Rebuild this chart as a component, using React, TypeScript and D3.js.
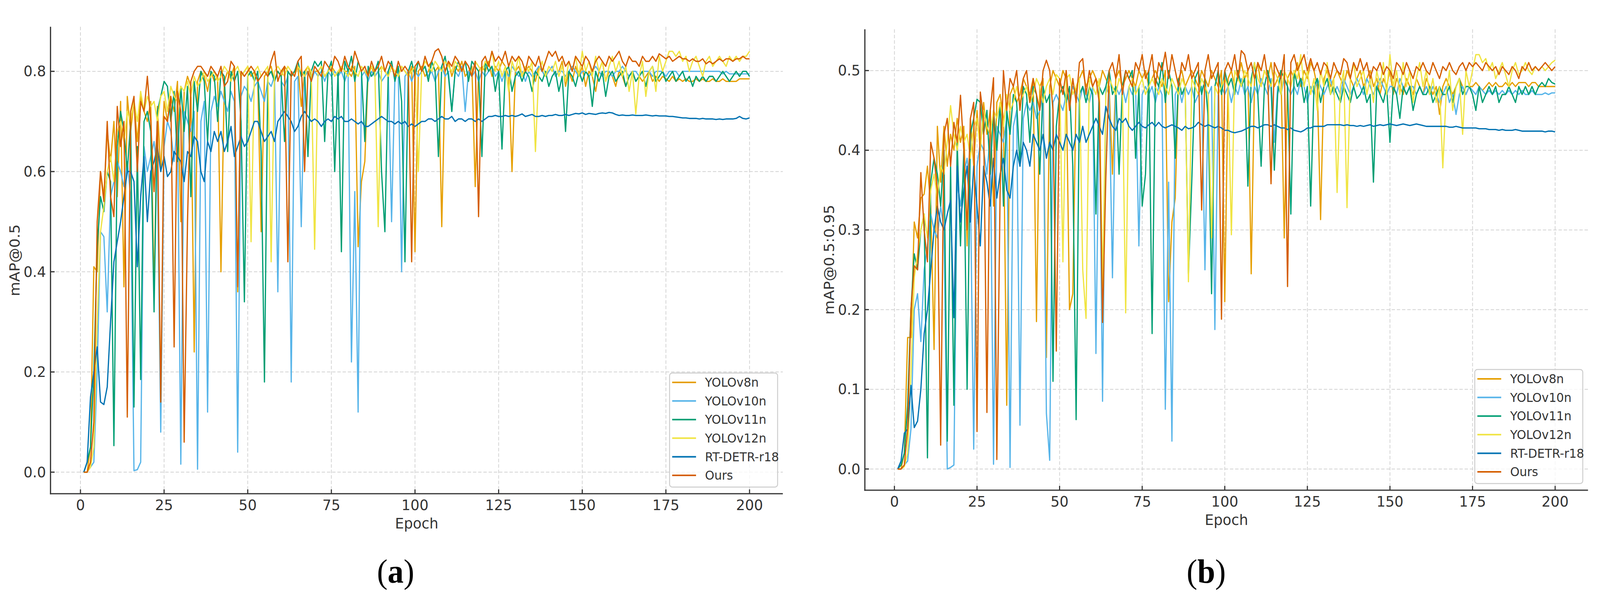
import React, { useEffect } from 'react';
import * as d3 from 'd3';

// series names + colours (legend order = draw order)
const seriesNames = ['YOLOv8n', 'YOLOv10n', 'YOLOv11n', 'YOLOv12n', 'RT-DETR-r18', 'Ours'];
const seriesColors = ['#E69F00', '#56B4E9', '#009E73', '#F0E442', '#0072B2', '#D55E00'];

const epochTicks = [0, 25, 50, 75, 100, 125, 150, 175, 200];
const map50Ticks = [0, 0.2, 0.4, 0.6, 0.8];
const map5095Ticks = [0, 0.1, 0.2, 0.3, 0.4, 0.5];

// ---- mAP@0.5, epochs 1..200 ----
const yolov8nMap50 = [
  0.0, 0.0, 0.05, 0.41, 0.40, 0.60, 0.55, 0.68, 0.62, 0.70, 0.55, 0.74, 0.37, 0.75, 0.68, 0.74, 0.66, 0.75, 0.72, 0.70,
  0.74, 0.36, 0.73, 0.60, 0.74, 0.70, 0.75, 0.72, 0.78, 0.50, 0.76, 0.79, 0.77, 0.24, 0.78, 0.80, 0.79, 0.76, 0.80, 0.78,
  0.79, 0.40, 0.78, 0.80, 0.79, 0.81, 0.36, 0.79, 0.80, 0.81, 0.79, 0.80, 0.78, 0.48, 0.79, 0.80, 0.81, 0.78, 0.80, 0.79,
  0.81, 0.80, 0.79, 0.80, 0.81, 0.73, 0.80, 0.81, 0.79, 0.80, 0.80, 0.81, 0.79, 0.80, 0.81, 0.80, 0.79, 0.81, 0.80, 0.80,
  0.79, 0.81, 0.45, 0.58, 0.62, 0.80, 0.81, 0.79, 0.80, 0.81, 0.80, 0.79, 0.81, 0.80, 0.79, 0.81, 0.80, 0.79, 0.81, 0.44,
  0.80, 0.81, 0.79, 0.80, 0.82, 0.80, 0.81, 0.49, 0.80, 0.82, 0.79, 0.81, 0.80, 0.82, 0.79, 0.80, 0.81, 0.57, 0.80, 0.81,
  0.80, 0.82, 0.79, 0.81, 0.80, 0.82, 0.81, 0.79, 0.60, 0.80, 0.81, 0.79, 0.80, 0.81, 0.80, 0.78, 0.81, 0.80, 0.79, 0.80,
  0.81, 0.79, 0.80, 0.82, 0.77, 0.80, 0.78, 0.81, 0.79, 0.81, 0.77, 0.80, 0.79, 0.76, 0.80, 0.82, 0.78, 0.80, 0.79, 0.77,
  0.80, 0.79, 0.77, 0.79, 0.80, 0.78, 0.79, 0.78, 0.79, 0.80, 0.78, 0.79, 0.78, 0.79, 0.785, 0.78, 0.79, 0.78, 0.785, 0.78,
  0.785, 0.78, 0.78, 0.785, 0.78, 0.785, 0.78, 0.78, 0.785, 0.78, 0.78, 0.785, 0.78, 0.78, 0.78, 0.78, 0.785, 0.785, 0.785, 0.785,
];
const yolov10nMap50 = [
  0.0, 0.0, 0.01, 0.02, 0.2, 0.48, 0.47, 0.32, 0.55, 0.58, 0.62, 0.6, 0.57, 0.62, 0.55, 0.003, 0.005, 0.02, 0.65, 0.6,
  0.63, 0.66, 0.6, 0.08, 0.65, 0.7, 0.68, 0.62, 0.7, 0.016, 0.72, 0.7, 0.68, 0.72, 0.006, 0.7, 0.74, 0.12, 0.72, 0.75,
  0.73, 0.76, 0.74, 0.72, 0.76, 0.74, 0.04, 0.75, 0.77, 0.76, 0.74, 0.77, 0.78, 0.76, 0.74, 0.78, 0.77, 0.79, 0.36, 0.78,
  0.77, 0.79, 0.18, 0.78, 0.79, 0.49, 0.79, 0.8, 0.78, 0.8, 0.79, 0.8, 0.78, 0.8, 0.79, 0.8, 0.79, 0.8, 0.78, 0.8,
  0.22, 0.56, 0.12, 0.79, 0.8, 0.78, 0.8, 0.79, 0.8, 0.78, 0.79, 0.8, 0.5, 0.79, 0.8, 0.4, 0.79, 0.8, 0.78, 0.8,
  0.79, 0.8, 0.81, 0.79, 0.8, 0.78, 0.8, 0.81, 0.79, 0.8, 0.72, 0.8, 0.79, 0.81, 0.72, 0.8, 0.79, 0.8, 0.78, 0.8,
  0.79, 0.8, 0.81, 0.79, 0.8, 0.78, 0.8, 0.79, 0.81, 0.8, 0.79, 0.8, 0.78, 0.8, 0.79, 0.8, 0.81, 0.8, 0.79, 0.8,
  0.81, 0.79, 0.8, 0.8, 0.79, 0.8, 0.81, 0.8, 0.79, 0.8, 0.8, 0.79, 0.8, 0.81, 0.8, 0.79, 0.8, 0.8, 0.79, 0.8,
  0.8, 0.81, 0.8, 0.79, 0.8, 0.8, 0.79, 0.8, 0.8, 0.8, 0.79, 0.8, 0.8, 0.8, 0.79, 0.8, 0.8, 0.8, 0.79, 0.8,
  0.8, 0.8, 0.8, 0.8, 0.8, 0.8, 0.8, 0.8, 0.8, 0.8, 0.8, 0.795, 0.8, 0.795, 0.795, 0.795, 0.795, 0.795, 0.795, 0.795,
];
const yolov11nMap50 = [
  0.0, 0.02, 0.05, 0.2, 0.45, 0.55, 0.52, 0.6, 0.58, 0.053, 0.65, 0.72, 0.68, 0.6, 0.7, 0.13, 0.65, 0.185, 0.7, 0.72,
  0.68, 0.32, 0.72, 0.75, 0.78, 0.77, 0.7, 0.76, 0.62, 0.77, 0.68, 0.77, 0.55, 0.78, 0.72, 0.8, 0.78, 0.66, 0.8, 0.79,
  0.7, 0.8, 0.79, 0.64, 0.8, 0.78, 0.8, 0.7, 0.34, 0.79, 0.8, 0.78, 0.8, 0.64, 0.18, 0.79, 0.8, 0.78, 0.8, 0.79,
  0.66, 0.8, 0.79, 0.8, 0.82, 0.79, 0.8, 0.63, 0.8, 0.82, 0.81, 0.82, 0.66, 0.8, 0.82, 0.6, 0.8, 0.44, 0.82, 0.8,
  0.83, 0.78, 0.82, 0.8, 0.66, 0.81, 0.79, 0.8, 0.82, 0.6, 0.48, 0.8, 0.82, 0.78, 0.81, 0.74, 0.42, 0.8, 0.82, 0.79,
  0.82, 0.8, 0.81, 0.78, 0.82, 0.8, 0.63, 0.81, 0.83, 0.79, 0.72, 0.8, 0.82, 0.8, 0.82, 0.78, 0.82, 0.81, 0.8, 0.63,
  0.82, 0.8, 0.81, 0.76, 0.8, 0.645, 0.8, 0.81, 0.76, 0.79, 0.8, 0.78, 0.8, 0.79, 0.76, 0.8, 0.79, 0.78, 0.8, 0.77,
  0.79, 0.8, 0.76, 0.79, 0.68, 0.8, 0.79, 0.77, 0.8, 0.78, 0.8, 0.79, 0.73, 0.8, 0.78, 0.8, 0.75, 0.79, 0.8, 0.78,
  0.79, 0.8, 0.77, 0.79, 0.8, 0.78, 0.79, 0.8, 0.77, 0.8, 0.81, 0.78, 0.79, 0.8, 0.78, 0.79, 0.8, 0.78, 0.79, 0.8,
  0.78, 0.79, 0.77, 0.79, 0.78, 0.79, 0.78, 0.79, 0.79, 0.78, 0.79, 0.8, 0.79, 0.78, 0.79, 0.8, 0.79, 0.8, 0.8, 0.79,
];
const yolov12nMap50 = [
  0.0, 0.0, 0.01, 0.05, 0.3, 0.48, 0.53, 0.6, 0.63, 0.58, 0.68, 0.7, 0.66, 0.72, 0.7, 0.74, 0.7, 0.76, 0.72, 0.75,
  0.73, 0.74, 0.7, 0.75, 0.76, 0.72, 0.77, 0.75, 0.74, 0.77, 0.76, 0.78, 0.75, 0.79, 0.77, 0.78, 0.8, 0.78, 0.79, 0.8,
  0.78, 0.79, 0.81, 0.8, 0.78, 0.8, 0.81, 0.79, 0.8, 0.81, 0.46, 0.8, 0.81, 0.79, 0.8, 0.81, 0.42, 0.8, 0.81, 0.8,
  0.79, 0.81, 0.8, 0.79, 0.81, 0.8, 0.79, 0.81, 0.8, 0.445, 0.8, 0.81, 0.79, 0.8, 0.81, 0.79, 0.8, 0.81, 0.8, 0.79,
  0.81, 0.8, 0.79, 0.81, 0.8, 0.79, 0.81, 0.8, 0.49, 0.81, 0.8, 0.79, 0.81, 0.8, 0.79, 0.81, 0.8, 0.79, 0.8, 0.81,
  0.6, 0.8, 0.82, 0.81, 0.8, 0.82, 0.81, 0.8, 0.82, 0.81, 0.8, 0.82, 0.81, 0.8, 0.82, 0.81, 0.79, 0.82, 0.81, 0.8,
  0.82, 0.81, 0.84, 0.8, 0.82, 0.79, 0.81, 0.76, 0.82, 0.8, 0.83, 0.79, 0.81, 0.8, 0.82, 0.64, 0.8, 0.82, 0.79, 0.81,
  0.8, 0.82, 0.79, 0.81, 0.78, 0.82, 0.8, 0.83, 0.79, 0.84, 0.8, 0.82, 0.79, 0.83, 0.8, 0.82, 0.78, 0.81, 0.83, 0.8,
  0.82, 0.79, 0.81, 0.76, 0.8, 0.715, 0.79, 0.82, 0.75, 0.8, 0.81, 0.76, 0.83, 0.8, 0.82, 0.84, 0.84, 0.83, 0.84, 0.82,
  0.83, 0.8, 0.82, 0.83, 0.81, 0.79, 0.82, 0.83, 0.81, 0.82, 0.83, 0.82, 0.81, 0.83, 0.82, 0.83, 0.82, 0.83, 0.83, 0.84,
];
const rtdetrMap50 = [
  0.0, 0.02, 0.15, 0.2, 0.25, 0.14, 0.135, 0.17, 0.3, 0.42, 0.46, 0.5, 0.55, 0.6, 0.6, 0.58, 0.41, 0.55, 0.63, 0.5,
  0.6, 0.62, 0.65, 0.6, 0.63, 0.59, 0.6, 0.64, 0.63, 0.62, 0.58, 0.64, 0.63, 0.67, 0.66, 0.6, 0.58, 0.66, 0.64, 0.68,
  0.66, 0.68, 0.64, 0.66, 0.69, 0.63, 0.65, 0.67, 0.65, 0.66, 0.68, 0.7, 0.7, 0.68, 0.66, 0.67, 0.68, 0.66, 0.7, 0.71,
  0.72, 0.71, 0.7, 0.68, 0.69, 0.71, 0.72, 0.71, 0.7, 0.705, 0.7, 0.69, 0.7, 0.705, 0.7, 0.71, 0.705, 0.71, 0.7, 0.7,
  0.705, 0.7, 0.695, 0.7, 0.69, 0.69, 0.695, 0.7, 0.705, 0.71, 0.705, 0.7, 0.7, 0.695, 0.7, 0.695, 0.7, 0.69, 0.695, 0.69,
  0.695, 0.7, 0.7, 0.705, 0.705, 0.7, 0.705, 0.71, 0.705, 0.705, 0.71, 0.7, 0.705, 0.705, 0.7, 0.705, 0.705, 0.7, 0.705, 0.7,
  0.705, 0.71, 0.71, 0.712, 0.71, 0.71, 0.712, 0.71, 0.712, 0.71, 0.712, 0.715, 0.71, 0.712, 0.714, 0.71, 0.71, 0.712, 0.71, 0.712,
  0.712, 0.714, 0.712, 0.712, 0.714, 0.712, 0.714, 0.716, 0.715, 0.717, 0.714, 0.716, 0.715, 0.714, 0.716, 0.717, 0.716, 0.718, 0.717, 0.714,
  0.712, 0.713, 0.712, 0.712, 0.713, 0.712, 0.712, 0.712, 0.713, 0.712, 0.711, 0.712, 0.711, 0.711, 0.711, 0.71, 0.71, 0.709, 0.708, 0.707,
  0.707, 0.706, 0.706, 0.706, 0.705, 0.706, 0.705, 0.705, 0.705, 0.704, 0.705, 0.704, 0.705, 0.705, 0.705, 0.706, 0.71, 0.706, 0.705, 0.707,
];
const oursMap50 = [
  0.0, 0.0, 0.02, 0.1, 0.5, 0.6, 0.54, 0.7, 0.55, 0.51, 0.73, 0.65, 0.7, 0.11, 0.72, 0.75, 0.6, 0.74, 0.72, 0.79,
  0.7, 0.56, 0.7, 0.14, 0.71, 0.7, 0.75, 0.25, 0.76, 0.72, 0.06, 0.5, 0.78, 0.8, 0.81, 0.81, 0.8, 0.79, 0.81, 0.8,
  0.79, 0.81, 0.77, 0.78, 0.82, 0.81, 0.37, 0.8, 0.79, 0.8, 0.81, 0.8, 0.78, 0.79, 0.8, 0.79, 0.82, 0.84, 0.78, 0.8,
  0.81, 0.42, 0.8, 0.79, 0.82, 0.83, 0.6, 0.8, 0.78, 0.81, 0.8, 0.79, 0.82, 0.81, 0.8, 0.83, 0.82, 0.8, 0.83, 0.81,
  0.8, 0.84, 0.82, 0.8, 0.81, 0.79, 0.82, 0.8, 0.81, 0.83, 0.8, 0.82, 0.81, 0.79, 0.82, 0.8, 0.81, 0.8, 0.42, 0.81,
  0.82, 0.8, 0.83, 0.81, 0.82, 0.84, 0.845, 0.83, 0.8, 0.82, 0.81, 0.83, 0.82, 0.8, 0.82, 0.81, 0.79, 0.82, 0.51, 0.82,
  0.83, 0.81, 0.84, 0.82, 0.83, 0.82, 0.84, 0.81, 0.83, 0.82, 0.83, 0.82, 0.8, 0.83, 0.82, 0.81, 0.83, 0.8, 0.82, 0.84,
  0.83, 0.84, 0.82, 0.83, 0.81, 0.82, 0.8, 0.83, 0.82, 0.81, 0.83, 0.82, 0.8, 0.82, 0.83, 0.82, 0.81, 0.83, 0.82, 0.83,
  0.84, 0.82, 0.81, 0.83, 0.82, 0.82, 0.81, 0.83, 0.82, 0.82, 0.83, 0.82, 0.835, 0.83, 0.825, 0.83, 0.82, 0.825, 0.83, 0.825,
  0.825, 0.82, 0.825, 0.82, 0.82, 0.825, 0.815, 0.82, 0.815, 0.82, 0.825, 0.82, 0.825, 0.825, 0.82, 0.825, 0.825, 0.83, 0.825, 0.825,
];

// ---- mAP@0.5:0.95, epochs 1..200 ----
const yolov8nMap5095 = [
  0.0, 0.0, 0.02, 0.165, 0.165, 0.31, 0.29, 0.34, 0.345, 0.38, 0.33, 0.15, 0.43, 0.36, 0.43, 0.38, 0.42, 0.40, 0.44, 0.41,
  0.43, 0.28, 0.44, 0.38, 0.45, 0.40, 0.46, 0.42, 0.45, 0.33, 0.46, 0.47, 0.44, 0.08, 0.47, 0.48, 0.46, 0.47, 0.49, 0.48,
  0.47, 0.49, 0.185, 0.48, 0.49, 0.14, 0.48, 0.50, 0.49, 0.48, 0.50, 0.49, 0.20, 0.22, 0.48, 0.49, 0.50, 0.48, 0.49, 0.50,
  0.49, 0.48, 0.50, 0.49, 0.48, 0.37, 0.49, 0.50, 0.48, 0.49, 0.50, 0.49, 0.48, 0.50, 0.49, 0.50, 0.48, 0.49, 0.50, 0.49,
  0.48, 0.50, 0.21, 0.31, 0.34, 0.49, 0.50, 0.48, 0.49, 0.50, 0.49, 0.48, 0.50, 0.49, 0.48, 0.50, 0.49, 0.48, 0.50, 0.21,
  0.49, 0.50, 0.48, 0.49, 0.51, 0.49, 0.50, 0.245, 0.49, 0.51, 0.48, 0.50, 0.49, 0.51, 0.48, 0.49, 0.50, 0.29, 0.49, 0.50,
  0.49, 0.51, 0.48, 0.50, 0.49, 0.51, 0.50, 0.48, 0.313, 0.49, 0.50, 0.48, 0.49, 0.50, 0.49, 0.48, 0.50, 0.49, 0.48, 0.49,
  0.50, 0.48, 0.49, 0.50, 0.48, 0.49, 0.47, 0.49, 0.48, 0.50, 0.47, 0.49, 0.48, 0.47, 0.49, 0.48, 0.47, 0.49, 0.48, 0.47,
  0.49, 0.48, 0.47, 0.48, 0.445, 0.48, 0.49, 0.48, 0.47, 0.48, 0.49, 0.48, 0.47, 0.48, 0.48, 0.485, 0.48, 0.475, 0.48, 0.485,
  0.48, 0.485, 0.48, 0.48, 0.485, 0.48, 0.485, 0.48, 0.485, 0.485, 0.485, 0.48, 0.485, 0.485, 0.48, 0.48, 0.48, 0.48, 0.48, 0.48,
];
const yolov10nMap5095 = [
  0.0, 0.0, 0.005, 0.01, 0.05, 0.2, 0.22, 0.16, 0.25, 0.28, 0.32, 0.3, 0.29, 0.33, 0.3, 0.0, 0.002, 0.005, 0.36, 0.33,
  0.37, 0.39, 0.35, 0.025, 0.38, 0.41, 0.4, 0.37, 0.42, 0.006, 0.43, 0.42, 0.41, 0.44, 0.002, 0.43, 0.45, 0.055, 0.44, 0.46,
  0.45, 0.46, 0.44, 0.45, 0.47, 0.07, 0.011, 0.46, 0.47, 0.46, 0.45, 0.47, 0.46, 0.48, 0.47, 0.46, 0.48, 0.47, 0.46, 0.48,
  0.145, 0.47, 0.085, 0.48, 0.47, 0.24, 0.48, 0.47, 0.48, 0.46, 0.48, 0.47, 0.48, 0.28, 0.47, 0.48, 0.47, 0.48, 0.46, 0.48,
  0.47, 0.075, 0.36, 0.035, 0.47, 0.48, 0.46, 0.48, 0.47, 0.48, 0.46, 0.47, 0.48, 0.25, 0.47, 0.48, 0.175, 0.47, 0.48, 0.47,
  0.48, 0.46, 0.48, 0.47, 0.49, 0.47, 0.48, 0.46, 0.48, 0.47, 0.49, 0.48, 0.47, 0.49, 0.41, 0.48, 0.47, 0.49, 0.48, 0.47,
  0.48, 0.47, 0.49, 0.48, 0.46, 0.48, 0.47, 0.49, 0.48, 0.47, 0.48, 0.49, 0.47, 0.48, 0.47, 0.49, 0.48, 0.47, 0.48, 0.49,
  0.48, 0.47, 0.49, 0.48, 0.47, 0.48, 0.49, 0.48, 0.47, 0.48, 0.48, 0.47, 0.49, 0.48, 0.47, 0.48, 0.48, 0.47, 0.48, 0.47,
  0.48, 0.47, 0.48, 0.47, 0.46, 0.47, 0.48, 0.46, 0.47, 0.445, 0.47, 0.48, 0.47, 0.48, 0.475, 0.47, 0.48, 0.475, 0.47, 0.475,
  0.47, 0.475, 0.47, 0.475, 0.47, 0.475, 0.47, 0.475, 0.47, 0.475, 0.47, 0.47, 0.475, 0.47, 0.47, 0.47, 0.472, 0.47, 0.472, 0.472,
];
const yolov11nMap5095 = [
  0.0, 0.005, 0.02, 0.08, 0.2, 0.27, 0.25, 0.3, 0.32, 0.014, 0.36, 0.39, 0.37, 0.33, 0.4, 0.035, 0.38, 0.08, 0.41, 0.28,
  0.4, 0.1, 0.42, 0.44, 0.464, 0.46, 0.42, 0.45, 0.37, 0.45, 0.4, 0.46, 0.33, 0.45, 0.42, 0.47, 0.46, 0.38, 0.48, 0.47,
  0.41, 0.48, 0.47, 0.37, 0.48, 0.46, 0.47, 0.11, 0.43, 0.47, 0.48, 0.46, 0.48, 0.38, 0.062, 0.47, 0.48, 0.46, 0.48, 0.47,
  0.32, 0.48, 0.47, 0.48, 0.5, 0.47, 0.48, 0.37, 0.48, 0.5, 0.49, 0.5, 0.39, 0.48, 0.33, 0.37, 0.5, 0.17, 0.49, 0.48,
  0.51, 0.46, 0.5, 0.48, 0.39, 0.49, 0.47, 0.48, 0.245, 0.36, 0.49, 0.5, 0.47, 0.49, 0.44, 0.22, 0.48, 0.5, 0.47, 0.5,
  0.48, 0.49, 0.47, 0.5, 0.48, 0.49, 0.355, 0.49, 0.51, 0.47, 0.38, 0.48, 0.5, 0.48, 0.375, 0.47, 0.5, 0.49, 0.48, 0.32,
  0.5, 0.48, 0.49, 0.46, 0.48, 0.33, 0.48, 0.49, 0.46, 0.48, 0.49, 0.47, 0.48, 0.47, 0.46, 0.48, 0.47, 0.46, 0.48, 0.465,
  0.47, 0.48, 0.46, 0.47, 0.36, 0.48, 0.47, 0.46, 0.48, 0.41, 0.48, 0.47, 0.44, 0.48, 0.47, 0.48, 0.45, 0.47, 0.48, 0.47,
  0.47, 0.48, 0.46, 0.47, 0.48, 0.47, 0.47, 0.48, 0.46, 0.48, 0.49, 0.47, 0.48, 0.48, 0.47, 0.45, 0.48, 0.46, 0.47, 0.48,
  0.47, 0.48, 0.46, 0.47, 0.47, 0.48, 0.47, 0.46, 0.48, 0.47, 0.48, 0.47, 0.48, 0.47, 0.48, 0.485, 0.48, 0.49, 0.485, 0.483,
];
const yolov12nMap5095 = [
  0.0, 0.0, 0.003, 0.02, 0.12, 0.24, 0.27, 0.3, 0.32, 0.29, 0.35, 0.37, 0.34, 0.38, 0.37, 0.41, 0.456, 0.42, 0.4, 0.43,
  0.41, 0.42, 0.39, 0.43, 0.44, 0.4, 0.45, 0.43, 0.42, 0.45, 0.44, 0.46, 0.43, 0.47, 0.45, 0.46, 0.48, 0.46, 0.47, 0.48,
  0.46, 0.47, 0.49, 0.48, 0.46, 0.48, 0.49, 0.47, 0.495, 0.49, 0.26, 0.49, 0.495, 0.47, 0.48, 0.49, 0.25, 0.189, 0.49, 0.48,
  0.47, 0.49, 0.23, 0.47, 0.49, 0.48, 0.47, 0.49, 0.48, 0.196, 0.48, 0.49, 0.47, 0.48, 0.49, 0.47, 0.48, 0.49, 0.48, 0.47,
  0.49, 0.48, 0.47, 0.49, 0.48, 0.47, 0.49, 0.48, 0.235, 0.49, 0.48, 0.47, 0.49, 0.48, 0.47, 0.29, 0.48, 0.47, 0.48, 0.49,
  0.48, 0.294, 0.5, 0.49, 0.48, 0.5, 0.49, 0.48, 0.51, 0.49, 0.48, 0.5, 0.49, 0.48, 0.5, 0.49, 0.47, 0.5, 0.49, 0.48,
  0.5, 0.49, 0.52, 0.48, 0.5, 0.47, 0.49, 0.45, 0.5, 0.48, 0.51, 0.47, 0.49, 0.347, 0.48, 0.5, 0.328, 0.49, 0.51, 0.48,
  0.49, 0.5, 0.47, 0.49, 0.46, 0.5, 0.48, 0.51, 0.47, 0.52, 0.48, 0.5, 0.47, 0.51, 0.48, 0.5, 0.46, 0.49, 0.51, 0.48,
  0.5, 0.47, 0.49, 0.46, 0.48, 0.378, 0.47, 0.5, 0.45, 0.48, 0.49, 0.42, 0.5, 0.48, 0.5, 0.52, 0.52, 0.51, 0.515, 0.5,
  0.51, 0.49, 0.5, 0.51, 0.495, 0.48, 0.5, 0.51, 0.495, 0.5, 0.51, 0.5, 0.495, 0.505, 0.5, 0.505, 0.5, 0.505, 0.51, 0.513,
];
const rtdetrMap5095 = [
  0.0, 0.01, 0.045, 0.05, 0.105, 0.052, 0.06, 0.1, 0.17, 0.2, 0.25, 0.3, 0.33, 0.31, 0.3, 0.32, 0.337, 0.19, 0.38, 0.31,
  0.35, 0.38, 0.31, 0.38, 0.33, 0.28, 0.38, 0.36, 0.33, 0.39, 0.34, 0.37, 0.39, 0.35, 0.34, 0.38, 0.4, 0.38, 0.41, 0.4,
  0.38, 0.42, 0.41, 0.4, 0.42, 0.39, 0.41, 0.4, 0.42, 0.41, 0.4, 0.42, 0.41, 0.4, 0.42, 0.41, 0.43, 0.41, 0.42, 0.43,
  0.44, 0.43, 0.42, 0.455, 0.44, 0.43, 0.425, 0.44, 0.435, 0.44, 0.43, 0.425, 0.43, 0.435, 0.43, 0.428, 0.432, 0.435, 0.43, 0.435,
  0.43, 0.428, 0.43, 0.432, 0.43, 0.428, 0.425, 0.43, 0.427, 0.428, 0.43, 0.435, 0.432, 0.43, 0.432, 0.43, 0.428, 0.43, 0.428, 0.425,
  0.425, 0.423, 0.422, 0.423, 0.424, 0.426, 0.428, 0.43, 0.43, 0.428, 0.43, 0.432, 0.432, 0.43, 0.432, 0.43, 0.428, 0.428, 0.426, 0.428,
  0.425, 0.424, 0.423, 0.425, 0.428, 0.428, 0.43, 0.43, 0.43, 0.43, 0.432, 0.432, 0.432, 0.432, 0.432, 0.431, 0.432, 0.431, 0.431, 0.43,
  0.431, 0.43, 0.431, 0.432, 0.43, 0.431, 0.432, 0.431, 0.432, 0.433, 0.432, 0.431, 0.432, 0.433, 0.432, 0.431, 0.432, 0.433, 0.432, 0.431,
  0.43, 0.43, 0.43, 0.43, 0.43, 0.43, 0.43, 0.429, 0.429, 0.43, 0.429, 0.428, 0.428, 0.428, 0.428, 0.428, 0.427, 0.427, 0.427, 0.426,
  0.426, 0.426, 0.425, 0.426, 0.425, 0.425, 0.425, 0.426, 0.425, 0.424, 0.424, 0.424, 0.424, 0.424, 0.424, 0.424, 0.423, 0.424, 0.424, 0.423,
];
const oursMap5095 = [
  0.0, 0.0, 0.005, 0.05, 0.2, 0.255, 0.25, 0.372, 0.3, 0.26, 0.41, 0.39, 0.35, 0.03, 0.42, 0.44, 0.38, 0.435, 0.41, 0.469,
  0.4, 0.3, 0.44, 0.46, 0.047, 0.473, 0.44, 0.071, 0.45, 0.491, 0.012, 0.35, 0.5, 0.45, 0.49, 0.48, 0.5, 0.45, 0.49, 0.5,
  0.46, 0.49, 0.47, 0.45, 0.5, 0.513, 0.5, 0.45, 0.148, 0.49, 0.47, 0.5, 0.45, 0.49, 0.46, 0.51, 0.515, 0.47, 0.5, 0.48,
  0.49, 0.46, 0.184, 0.366, 0.5, 0.51, 0.49, 0.52, 0.47, 0.5, 0.49, 0.48, 0.51, 0.5, 0.52, 0.49, 0.5, 0.52, 0.48, 0.51,
  0.5, 0.523, 0.49, 0.52, 0.5, 0.48, 0.51, 0.5, 0.52, 0.49, 0.5, 0.51, 0.325, 0.5, 0.52, 0.49, 0.5, 0.51, 0.188, 0.5,
  0.51, 0.5, 0.52, 0.49, 0.525, 0.52, 0.5, 0.51, 0.49, 0.51, 0.5, 0.52, 0.49, 0.358, 0.51, 0.5, 0.49, 0.52, 0.229, 0.51,
  0.52, 0.5, 0.51, 0.52, 0.5, 0.515, 0.5, 0.51, 0.495, 0.51, 0.505, 0.49, 0.51, 0.5, 0.495, 0.515, 0.51, 0.49, 0.51, 0.5,
  0.515, 0.5, 0.51, 0.49, 0.505, 0.5, 0.51, 0.495, 0.505, 0.5, 0.49, 0.51, 0.505, 0.495, 0.51, 0.5, 0.49, 0.505, 0.5, 0.51,
  0.5, 0.495, 0.51, 0.5, 0.49, 0.505, 0.5, 0.51, 0.5, 0.495, 0.505, 0.51, 0.5, 0.51, 0.505, 0.51, 0.505, 0.5, 0.51, 0.505,
  0.5, 0.505, 0.495, 0.505, 0.5, 0.495, 0.505, 0.5, 0.49, 0.505, 0.5, 0.51, 0.5, 0.505, 0.5, 0.505, 0.51, 0.505, 0.5, 0.505,
];

const map50Series = [yolov8nMap50, yolov10nMap50, yolov11nMap50, yolov12nMap50, rtdetrMap50, oursMap50];
const map5095Series = [yolov8nMap5095, yolov10nMap5095, yolov11nMap5095, yolov12nMap5095, rtdetrMap5095, oursMap5095];

const FONT = '"DejaVu Sans", sans-serif';
const INK = '#333333';
const GRID = '#d2d2d2';
const W = 4295;
const H = 1531;

interface Frame { left: number; right: number; top: number; bottom: number; }

interface PanelProps {
  frame: Frame;
  yDomain: [number, number];
  yTicks: number[];
  series: number[][];
  yLabel: string;
  tag: string;
  tagX: number;
}

function Panel({ frame, yDomain, yTicks, series, yLabel, tag, tagX }: PanelProps) {
  const x = d3.scaleLinear().domain([-8.95, 209.95]).range([frame.left, frame.right]);
  const y = d3.scaleLinear().domain(yDomain).range([frame.bottom, frame.top]);
  const line = d3.line<number>()
    .x((_, i) => x(i + 1))
    .y(d => y(d));
  const fmt = d3.format('.1f');

  // legend box sits in the lower right corner
  const legW = 290;
  const legH = 292;
  const legLeft = frame.right - 14 - legW;
  const legTop = frame.bottom - 17 - legH;
  const midY = (frame.top + frame.bottom) / 2;

  return (
    <g>
      {/* grid */}
      {epochTicks.map(t => (
        <line key={'gx' + t} x1={x(t)} x2={x(t)} y1={frame.top} y2={frame.bottom}
          stroke={GRID} strokeWidth={2} strokeDasharray="9 5" />
      ))}
      {yTicks.map(t => (
        <line key={'gy' + t} x1={frame.left} x2={frame.right} y1={y(t)} y2={y(t)}
          stroke={GRID} strokeWidth={2} strokeDasharray="9 5" />
      ))}

      {/* data */}
      {series.map((s, i) => (
        <path key={seriesNames[i]} d={line(s) || ''} fill="none" stroke={seriesColors[i]}
          strokeWidth={3.3} strokeLinejoin="round" />
      ))}

      {/* spines */}
      <line x1={frame.left} x2={frame.left} y1={frame.top} y2={frame.bottom + 1.5} stroke={INK} strokeWidth={3.2} />
      <line x1={frame.left - 1.5} x2={frame.right} y1={frame.bottom} y2={frame.bottom} stroke={INK} strokeWidth={3.2} />

      {/* x ticks (inward) */}
      {epochTicks.map(t => (
        <g key={'tx' + t}>
          <line x1={x(t)} x2={x(t)} y1={frame.bottom} y2={frame.bottom - 11} stroke={INK} strokeWidth={3} />
          <text x={x(t)} y={frame.bottom + 29} textAnchor="middle" dominantBaseline="central"
            fontFamily={FONT} fontSize={38} fill={INK}>{t}</text>
        </g>
      ))}
      {/* y ticks (inward) */}
      {yTicks.map(t => (
        <g key={'ty' + t}>
          <line x1={frame.left} x2={frame.left + 11} y1={y(t)} y2={y(t)} stroke={INK} strokeWidth={3} />
          <text x={frame.left - 12} y={y(t)} textAnchor="end" dominantBaseline="central"
            fontFamily={FONT} fontSize={38} fill={INK}>{fmt(t)}</text>
        </g>
      ))}

      {/* axis labels */}
      <text x={(frame.left + frame.right) / 2} y={frame.bottom + 76} textAnchor="middle"
        dominantBaseline="central" fontFamily={FONT} fontSize={38} fill={INK}>Epoch</text>
      <text transform={`translate(${frame.left - 96},${midY}) rotate(-90)`} textAnchor="middle"
        dominantBaseline="central" fontFamily={FONT} fontSize={38} fill={INK}>{yLabel}</text>

      {/* legend */}
      <rect x={legLeft} y={legTop} width={legW} height={legH} rx={7} ry={7}
        fill="#ffffff" fillOpacity={0.8} stroke="#cccccc" strokeWidth={2.5} />
      {seriesNames.map((name, i) => {
        const ly = legTop + 24 + i * 47.6;
        return (
          <g key={'leg' + name}>
            <line x1={legLeft + 7} x2={legLeft + 71} y1={ly} y2={ly} stroke={seriesColors[i]} strokeWidth={4} />
            <text x={legLeft + 95} y={ly} dominantBaseline="central" fontFamily={FONT}
              fontSize={32} fill={INK}>{name}</text>
          </g>
        );
      })}

      {/* subfigure tag */}
      <text x={tagX} y={1492} textAnchor="middle" fontFamily='"Liberation Serif", "Times New Roman", serif'
        fontSize={86} fill="#000000">
        (<tspan fontWeight="bold">{tag}</tspan>)
      </text>
    </g>
  );
}

export default function App() {
  useEffect(() => {
    document.body.style.margin = '0';
    document.body.style.overflow = 'hidden';
  }, []);

  // the svg fills the viewport so the 4295x1531 frame always maps onto the photo
  return (
    <svg viewBox={`0 0 ${W} ${H}`} preserveAspectRatio="none"
      style={{ position: 'fixed', left: 0, top: 0, width: '100vw', height: '100vh', display: 'block', background: '#fff' }}>
      <rect x={0} y={0} width={W} height={H} fill="#ffffff" />
      <Panel
        frame={{ left: 135.6, right: 2101.4, top: 68.5, bottom: 1264 }}
        yDomain={[-0.043, 0.889]}
        yTicks={map50Ticks}
        series={map50Series}
        yLabel="mAP@0.5"
        tag="a"
        tagX={1062}
      />
      <Panel
        frame={{ left: 2321.6, right: 4262.8, top: 75, bottom: 1255 }}
        yDomain={[-0.0266, 0.5518]}
        yTicks={map5095Ticks}
        series={map5095Series}
        yLabel="mAP@0.5:0.95"
        tag="b"
        tagX={3238}
      />
    </svg>
  );
}
